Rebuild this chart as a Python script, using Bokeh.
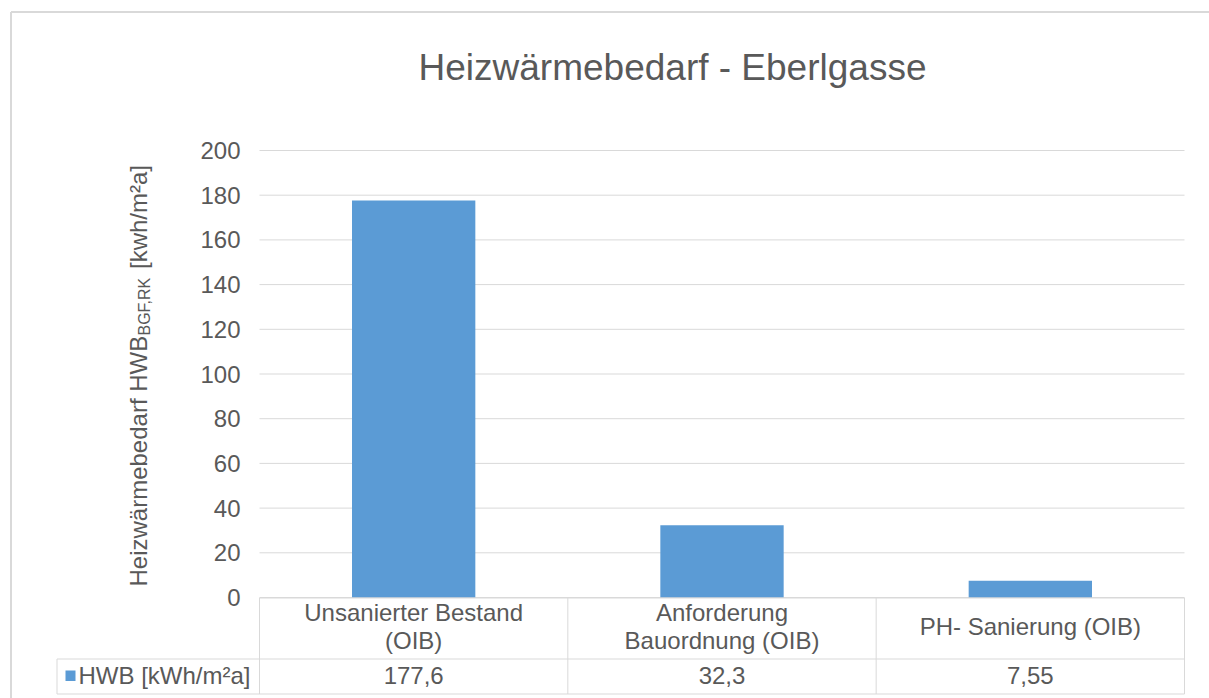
import math
from bokeh.plotting import figure
from bokeh.models import Range1d
from bokeh.core.properties import value
from bokeh.embed import file_html
from bokeh.resources import INLINE

# ---------------- data ----------------
title_text = "Heizwärmebedarf - Eberlgasse"
categories = ["Unsanierter Bestand\n(OIB)", "Anforderung\nBauordnung (OIB)", "PH- Sanierung (OIB)"]
values = [177.6, 32.3, 7.55]
value_labels = ["177,6", "32,3", "7,55"]
series_name = "HWB [kWh/m²a]"
y_ticks = [0, 20, 40, 60, 80, 100, 120, 140, 160, 180, 200]
y_label_main = "Heizwärmebedarf HWB"
y_label_sub = "BGF,RK"
y_label_tail = "[kwh/m²a]"

# ---------------- style ----------------
FONT = value("Liberation Sans")
TXT = "#595959"
GRID = "#D9D9D9"
BAR = "#5B9BD5"

W, H = 1209, 698
FL, FR, Y0, Y200 = 259, 1184, 597, 150      # plot area in page pixels
CW = (FR - FL) / len(categories)           # pixels per category
PY = (Y0 - Y200) / 200.0                   # pixels per y unit

p = figure(width=W, height=H,
           x_range=Range1d(-FL / CW, (W - FL) / CW),
           y_range=Range1d(-(H - Y0) / PY, Y0 / PY),
           output_backend="svg", toolbar_location=None, min_border=0)
p.outline_line_color = None
p.xaxis.visible = False
p.yaxis.visible = False
p.grid.visible = False
p.background_fill_color = "white"
p.border_fill_color = "white"


def DX(px):
    return (px - FL) / CW


def DY(py):
    return (Y0 - py) / PY


def txt(x, y, t, size="24px", align="center", baseline="middle", angle=0.0):
    p.text(x=x, y=y, text=t, angle=angle, text_font=FONT, text_font_size=size,
           text_color=TXT, text_align=align, text_baseline=baseline)


n = len(categories)
xs = [i + 0.5 for i in range(n)]

# gridlines + y tick labels
p.segment(x0=[0] * len(y_ticks), x1=[n] * len(y_ticks), y0=y_ticks, y1=y_ticks,
          line_color=GRID, line_width=1)
txt([DX(240)] * len(y_ticks), y_ticks, [str(t) for t in y_ticks], align="right")

# bars
p.vbar(x=xs, top=values, bottom=0, width=0.4, fill_color=BAR, line_color=None)

# chart border (left and top edges visible)
p.segment(x0=[DX(10.5), DX(10.5)], x1=[DX(10.5), DX(1300)],
          y0=[DY(900), DY(11.5)], y1=[DY(11.5), DY(11.5)], line_color=GRID, line_width=2)

# title
txt([DX(672)], [DY(67)], [title_text], size="37px", baseline="alphabetic")

# y axis label with subscript
A = math.pi / 2
txt([DX(137.5)], [DY(586)], [y_label_main], align="left", baseline="alphabetic", angle=A)
txt([DX(143.5)], [DY(335)], [y_label_sub], size="16px", align="left", baseline="alphabetic", angle=A)
txt([DX(137.5)], [DY(268.5)], [y_label_tail], align="left", baseline="alphabetic", angle=A)

# data table lines
R1T, R1B, R2B = 597.5, 658.5, 693.5
LX = DX(56.5)
hx0 = [0, LX, LX]
hy = [DY(R1T), DY(R1B), DY(R2B)]
p.segment(x0=hx0, x1=[n] * 3, y0=hy, y1=hy, line_color=GRID, line_width=1)
vx = [LX] + list(range(n + 1))
vy0 = [DY(R1B)] + [DY(R1T)] * (n + 1)
p.segment(x0=vx, x1=vx, y0=vy0, y1=[DY(R2B)] * (n + 2), line_color=GRID, line_width=1)

# data table texts
row1_mid = (R1T + R1B) / 2 - 2
row2_mid = (R1B + R2B) / 2 - 1
LINE_H = 28
cx, cy, ct = [], [], []
for x, cat in zip(xs, categories):
    lines = cat.split("\n")
    k_n = len(lines)
    for k, ln in enumerate(lines):
        cx.append(x)
        cy.append(DY(row1_mid + (k - (k_n - 1) / 2) * LINE_H))
        ct.append(ln)
txt(cx, cy, ct)
txt(xs, [DY(row2_mid)] * n, value_labels)

# legend key in table
p.quad(left=[DX(65)], right=[DX(75)], top=[DY(670)], bottom=[DY(680.5)],
       fill_color=BAR, line_color=None)
txt([DX(78)], [DY(row2_mid)], [series_name], align="left")

open("out.html", "w").write(file_html(p, INLINE))
